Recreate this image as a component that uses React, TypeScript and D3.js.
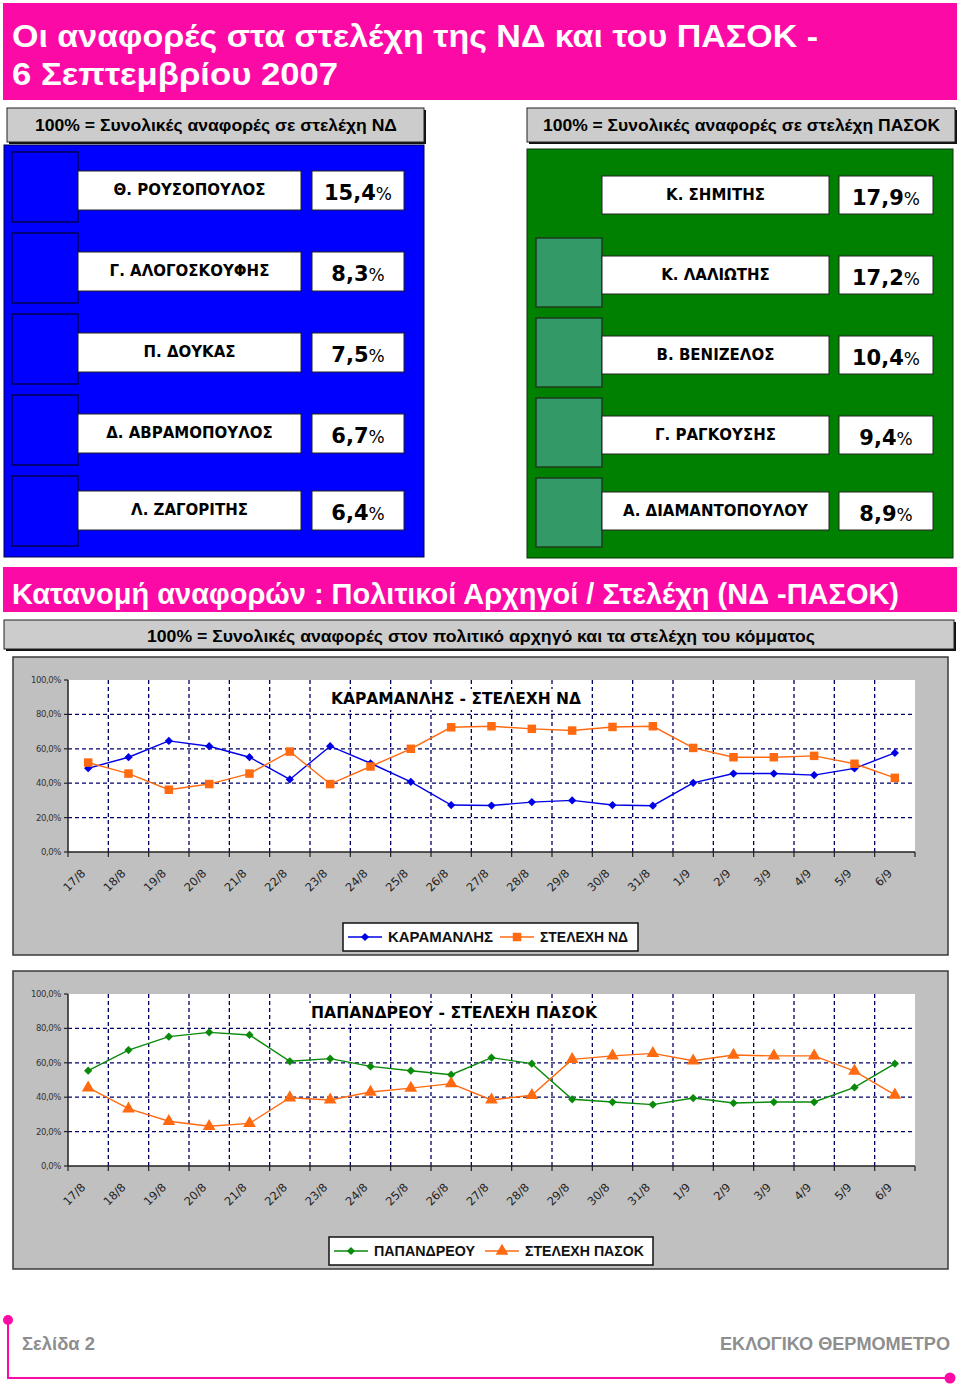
import React from "react";
import * as d3 from "d3";

const dates = ["17/8","18/8","19/8","20/8","21/8","22/8","23/8","24/8","25/8","26/8","27/8","28/8","29/8","30/8","31/8","1/9","2/9","3/9","4/9","5/9","6/9"];
const karamanlis = [48.7,55.1,64.6,61.5,55.1,42.2,61.5,51.6,40.8,27.3,27.0,29.0,30.0,27.3,26.9,40.2,45.6,45.6,44.7,48.6,57.6];
const stelexiND = [52.0,45.6,36.2,39.5,45.6,58.4,39.5,49.7,60.0,72.5,73.1,71.6,70.6,72.7,73.1,60.5,55.1,55.1,55.9,51.3,43.1];
const papandreou = [55.4,67.4,75.2,77.7,76.2,60.9,62.4,57.9,55.4,53.1,63.0,59.5,38.8,37.2,35.7,39.5,36.6,37.2,37.2,45.7,59.5];
const stelexiPASOK = [45.5,33.3,26.0,23.1,24.8,39.7,38.4,43.0,45.3,47.9,38.4,41.1,62.0,64.0,65.5,61.2,64.5,64.0,64.0,55.2,41.3];
const yTicks = [0,20,40,60,80,100];

const ndNames = ["Θ. ΡΟΥΣΟΠΟΥΛΟΣ","Γ. ΑΛΟΓΟΣΚΟΥΦΗΣ","Π. ΔΟΥΚΑΣ","Δ. ΑΒΡΑΜΟΠΟΥΛΟΣ","Λ. ΖΑΓΟΡΙΤΗΣ"];
const ndValues = [15.4,8.3,7.5,6.7,6.4];
const pasokNames = ["Κ. ΣΗΜΙΤΗΣ","Κ. ΛΑΛΙΩΤΗΣ","Β. ΒΕΝΙΖΕΛΟΣ","Γ. ΡΑΓΚΟΥΣΗΣ","Α. ΔΙΑΜΑΝΤΟΠΟΥΛΟΥ"];
const pasokValues = [17.9,17.2,10.4,9.4,8.9];

const MAG = "#fc0aa6";
const FONT = "'DejaVu Sans', Verdana, sans-serif";
const NARROW = "'Liberation Sans', Arial, sans-serif";
const fmt1 = (v: number) => d3.format(".1f")(v).replace(".", ",");

type Series = { values: number[]; color: string; marker: "diamond" | "square" | "triangle"; label: string; legendX: number; textLen: number };

function markerPath(m: string) {
  if (m === "diamond") return d3.symbol().type(d3.symbolSquare).size(34)()!;
  if (m === "square") return d3.symbol().type(d3.symbolSquare).size(72)()!;
  return d3.symbol().type(d3.symbolTriangle).size(70)()!;
}

function LineChart({ top, title, titleX, titleLen, series, legendBox }: { top: number; title: string; titleX: number; titleLen: number; series: Series[]; legendBox: [number, number] }) {
  const outerTop = top - 23;
  const plotTop = top, plotBottom = top + 172;
  const x = d3.scaleBand<string>().domain(dates).range([68, 915]).paddingInner(0).paddingOuter(0);
  const y = d3.scaleLinear().domain([0, 100]).range([plotBottom, plotTop]);
  const cx = (d: string) => (x(d) as number) + x.bandwidth() / 2;
  const line = d3.line<number>().x((_, i) => cx(dates[i])).y((v) => y(v));
  const boundaries = d3.range(1, dates.length).map((i) => 68 + i * x.bandwidth());
  const legY = plotBottom + 85;
  return (
    <g>
      <rect x={13} y={outerTop} width={935} height={298} fill="#c0c0c0" stroke="#3a3a3a" strokeWidth={1.5} />
      <rect x={68} y={plotTop} width={847} height={172} fill="#ffffff" />
      {yTicks.slice(1, 5).map((t) => (
        <line key={"h" + t} x1={68} x2={915} y1={y(t)} y2={y(t)} stroke="#000066" strokeWidth={1.3} strokeDasharray="4,3" />
      ))}
      {boundaries.map((b, i) => (
        <line key={"v" + i} x1={b} x2={b} y1={plotTop} y2={plotBottom} stroke="#000066" strokeWidth={1.3} strokeDasharray="4,3" />
      ))}
      <line x1={68} x2={68} y1={plotTop} y2={plotBottom} stroke="#222" strokeWidth={1.5} />
      <line x1={68} x2={915} y1={plotBottom} y2={plotBottom} stroke="#222" strokeWidth={1.5} />
      {yTicks.map((t) => (
        <g key={"yt" + t}>
          <line x1={64} x2={68} y1={y(t)} y2={y(t)} stroke="#222" strokeWidth={1.2} />
          <text x={61} y={y(t) + 3} fontSize={8.5} fontFamily={FONT} fill="#333" textAnchor="end" letterSpacing={-0.4}>{fmt1(t) + "%"}</text>
        </g>
      ))}
      {[68, ...boundaries, 915].map((b, i) => (
        <line key={"xt" + i} x1={b} x2={b} y1={plotBottom} y2={plotBottom + 5} stroke="#222" strokeWidth={1.2} />
      ))}
      {dates.map((d) => (
        <text key={"xl" + d} transform={`translate(${cx(d) - 2},${plotBottom + 22}) rotate(-45)`} fontSize={11.5} fontFamily={FONT} fill="#222" textAnchor="end">{d}</text>
      ))}
      <rect x={titleX - 4} y={plotTop + 9} width={titleLen + 8} height={21} fill="#ffffff" />
      <text x={titleX} y={plotTop + 24} fontSize={16} fontWeight="bold" fontFamily={FONT} fill="#000" textLength={titleLen} lengthAdjust="spacingAndGlyphs">{title}</text>
      {series.map((s, si) => (
        <g key={"s" + si}>
          <path d={line(s.values)!} fill="none" stroke={s.color} strokeWidth={1.4} />
          {s.values.map((v, i) => (
            <path key={i} d={markerPath(s.marker)} transform={`translate(${cx(dates[i])},${y(v)})${s.marker === "diamond" ? " rotate(45)" : ""}`} fill={s.color} />
          ))}
        </g>
      ))}
      <rect x={legendBox[0]} y={legY - 14} width={legendBox[1] - legendBox[0]} height={28} fill="#fff" stroke="#111" strokeWidth={1.5} />
      {series.map((s, si) => (
        <g key={"l" + si}>
          <line x1={s.legendX} x2={s.legendX + 34} y1={legY} y2={legY} stroke={s.color} strokeWidth={1.5} />
          <path d={markerPath(s.marker)} transform={`translate(${s.legendX + 17},${legY})${s.marker === "diamond" ? " rotate(45)" : ""}`} fill={s.color} />
          <text x={s.legendX + 40} y={legY + 5} fontSize={15} fontWeight="bold" fontFamily={NARROW} fill="#111" textLength={s.textLen} lengthAdjust="spacingAndGlyphs">{s.label}</text>
        </g>
      ))}
    </g>
  );
}

function NameRow({ x, y, w, name, vx, vw, value, h }: { x: number; y: number; w: number; name: string; vx: number; vw: number; value: number; h: number }) {
  return (
    <g>
      <rect x={x} y={y} width={w} height={h} fill="#fff" stroke="#222" strokeWidth={1} />
      <text x={x + w / 2} y={y + 24} fontSize={15} fontWeight="bold" fontFamily={FONT} textAnchor="middle" fill="#000">{name}</text>
      <rect x={vx} y={y} width={vw} height={h} fill="#fff" stroke="#222" strokeWidth={1} />
      <text x={vx + vw / 2} y={y + 29} fontFamily={FONT} textAnchor="middle" fill="#000">
        <tspan fontSize={21} fontWeight="bold">{fmt1(value)}</tspan>
        <tspan fontSize={17}>%</tspan>
      </text>
    </g>
  );
}

function GrayBox({ x, y, w, h, text, tx, tlen, ty }: { x: number; y: number; w: number; h: number; text: string; tx: number; tlen: number; ty: number }) {
  return (
    <g>
      <rect x={x + 2} y={y + 2} width={w} height={h} fill="#111" />
      <rect x={x} y={y} width={w} height={h} fill="#cccccc" stroke="#222" strokeWidth={1} />
      <text x={tx} y={ty} fontSize={16} fontWeight="bold" fontFamily={NARROW} fill="#000" textLength={tlen} lengthAdjust="spacingAndGlyphs">{text}</text>
    </g>
  );
}

export default function App() {
  const ndRowsY = [171, 252, 333, 414, 491];
  const ndSqY = [152, 233, 314, 395, 476];
  const pRowsY = [176, 256, 336, 416, 492];
  const pSqY = [238, 318, 398, 478];
  return (
    <svg width={960} height={1387} style={{ position: "absolute", left: 0, top: 0, background: "#fff" }}>
      <rect x={0} y={0} width={960} height={1387} fill="#fff" />
      {/* header */}
      <rect x={3} y={3} width={954} height={97} fill={MAG} />
      <text x={12} y={47} fontSize={32} fontWeight="bold" fontFamily={NARROW} fill="#fff" textLength={806} lengthAdjust="spacingAndGlyphs">Οι αναφορές στα στελέχη της ΝΔ και του ΠΑΣΟΚ -</text>
      <text x={12} y={85} fontSize={32} fontWeight="bold" fontFamily={NARROW} fill="#fff" textLength={326} lengthAdjust="spacingAndGlyphs">6 Σεπτεμβρίου 2007</text>

      <GrayBox x={7} y={108} w={417} h={34} text="100% = Συνολικές αναφορές σε στελέχη ΝΔ" tx={35} tlen={362} ty={131} />
      <GrayBox x={527} y={108} w={428} h={34} text="100% = Συνολικές αναφορές σε στελέχη ΠΑΣΟΚ" tx={543} tlen={397} ty={131} />

      {/* ND panel */}
      <rect x={4} y={145} width={420} height={412} fill="#0000ff" stroke="#000044" strokeWidth={1} />
      {ndSqY.map((sy, i) => (
        <rect key={"ns" + i} x={12} y={sy} width={66} height={70} fill="#0000ff" stroke="#000050" strokeWidth={1.5} />
      ))}
      {ndNames.map((n, i) => (
        <NameRow key={"nr" + i} x={78} y={ndRowsY[i]} w={223} h={39} name={n} vx={312} vw={92} value={ndValues[i]} />
      ))}

      {/* PASOK panel */}
      <rect x={527} y={149} width={426} height={409} fill="#008000" stroke="#0a300a" strokeWidth={1} />
      {pSqY.map((sy, i) => (
        <rect key={"ps" + i} x={536} y={sy} width={66} height={69} fill="#339966" stroke="#1e3d1e" strokeWidth={1.5} />
      ))}
      {pasokNames.map((n, i) => (
        <NameRow key={"pr" + i} x={602} y={pRowsY[i]} w={227} h={38} name={n} vx={839} vw={94} value={pasokValues[i]} />
      ))}

      {/* section title */}
      <rect x={3} y={567} width={954} height={45} fill={MAG} />
      <text x={12} y={604} fontSize={29} fontWeight="bold" fontFamily={NARROW} fill="#fff" textLength={887} lengthAdjust="spacingAndGlyphs">Κατανομή αναφορών : Πολιτικοί Αρχηγοί / Στελέχη (ΝΔ -ΠΑΣΟΚ)</text>
      <GrayBox x={4} y={620} w={950} h={29} text="100% = Συνολικές αναφορές στον πολιτικό αρχηγό  και τα στελέχη του κόμματος" tx={147} tlen={668} ty={642} />

      <LineChart
        top={680}
        title="ΚΑΡΑΜΑΝΛΗΣ - ΣΤΕΛΕΧΗ ΝΔ"
        titleX={331}
        titleLen={250}
        legendBox={[343, 638]}
        series={[
          { values: karamanlis, color: "#0000e6", marker: "diamond", label: "ΚΑΡΑΜΑΝΛΗΣ", legendX: 348, textLen: 105 },
          { values: stelexiND, color: "#ff6a10", marker: "square", label: "ΣΤΕΛΕΧΗ ΝΔ", legendX: 500, textLen: 88 },
        ]}
      />
      <LineChart
        top={994}
        title="ΠΑΠΑΝΔΡΕΟΥ - ΣΤΕΛΕΧΗ ΠΑΣΟΚ"
        titleX={311}
        titleLen={286}
        legendBox={[329, 653]}
        series={[
          { values: papandreou, color: "#0a8a0a", marker: "diamond", label: "ΠΑΠΑΝΔΡΕΟΥ", legendX: 334, textLen: 101 },
          { values: stelexiPASOK, color: "#ff6a10", marker: "triangle", label: "ΣΤΕΛΕΧΗ ΠΑΣΟΚ", legendX: 485, textLen: 119 },
        ]}
      />

      {/* footer */}
      <path d="M8,1320 L8,1378 L950,1378" fill="none" stroke={MAG} strokeWidth={2} />
      <circle cx={8} cy={1320} r={5} fill={MAG} />
      <circle cx={950} cy={1378} r={5.5} fill={MAG} />
      <text x={22} y={1350} fontSize={18} fontWeight="bold" fontFamily={NARROW} fill="#8e8e8e" textLength={73} lengthAdjust="spacingAndGlyphs">Σελίδα 2</text>
      <text x={950} y={1350} fontSize={18} fontWeight="bold" fontFamily={NARROW} fill="#8e8e8e" textAnchor="end" textLength={230} lengthAdjust="spacingAndGlyphs">ΕΚΛΟΓΙΚΟ ΘΕΡΜΟΜΕΤΡΟ</text>
    </svg>
  );
}
